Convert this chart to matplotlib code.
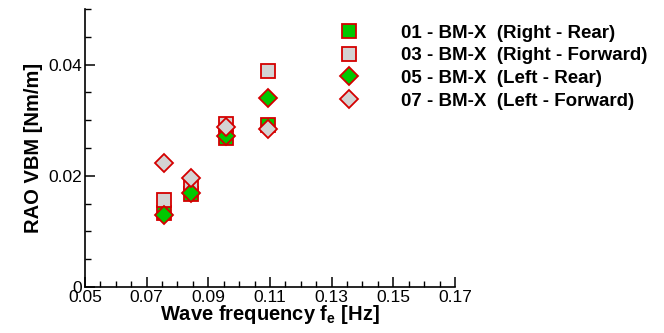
import numpy as np
import matplotlib
matplotlib.use("Agg")
import matplotlib.pyplot as plt

plt.rcParams['font.family'] = ['Liberation Sans', 'DejaVu Sans']

# wave encounter frequencies [Hz]
freq = [0.0757, 0.0843, 0.0957, 0.1094]

# RAO of vertical bending moment for each sensor
bm01 = [0.0133, 0.0168, 0.0268, 0.0292]   # Right - Rear
bm03 = [0.0156, 0.0183, 0.0293, 0.0388]   # Right - Forward
bm05 = [0.0130, 0.0169, 0.0271, 0.0340]   # Left - Rear
bm07 = [0.0223, 0.0196, 0.0287, 0.0285]   # Left - Forward

labels = ['01 - BM-X  (Right - Rear)',
          '03 - BM-X  (Right - Forward)',
          '05 - BM-X  (Left - Rear)',
          '07 - BM-X  (Left - Forward)']

red = '#d40000'
green = '#00c800'
grey = '#d3d3d3'

fig = plt.figure(figsize=(6.64, 3.33), dpi=100)
ax = fig.add_axes([85 / 664, 46 / 333, 370 / 664, 278 / 333])

ax.plot(freq, bm01, 's', ms=9.5, mfc=green, mec=red, mew=1.3, label=labels[0])
ax.plot(freq, bm03, 's', ms=9.5, mfc=grey, mec=red, mew=1.3, label=labels[1])
ax.plot(freq, bm05, 'D', ms=9, mfc=green, mec=red, mew=1.3, label=labels[2])
ax.plot(freq, bm07, 'D', ms=9, mfc=grey, mec=red, mew=1.3, label=labels[3])

ax.set_xlim(0.05, 0.17)
ax.set_ylim(0, 0.05)
ax.set_xticks(np.arange(0.05, 0.171, 0.02))
ax.set_xticklabels(['0.05', '0.07', '0.09', '0.11', '0.13', '0.15', '0.17'])
ax.set_xticks(np.arange(0.05, 0.171, 0.005), minor=True)
ax.set_yticks([0, 0.02, 0.04])
ax.set_yticklabels(['0', '0.02', '0.04'])
ax.set_yticks(np.arange(0, 0.0501, 0.005), minor=True)

ax.spines['top'].set_visible(False)
ax.spines['right'].set_visible(False)
ax.spines['left'].set_linewidth(1.2)
ax.spines['bottom'].set_linewidth(1.2)
ax.tick_params(which='major', direction='in', length=7, width=1.1, labelsize=12.5, pad=2)
ax.tick_params(which='minor', direction='in', length=4, width=1.0)

ax.set_xlabel('Wave frequency f$_\\mathregular{e}$ [Hz]', fontsize=14.5, fontweight='bold', labelpad=-1)
ax.set_ylabel('RAO VBM [Nm/m]', fontsize=14.5, fontweight='bold', labelpad=4)

ax.legend(loc='upper left', bbox_to_anchor=(328 / 664, 1 - 15 / 333),
          bbox_transform=fig.transFigure, frameon=False,
          prop={'size': 13.5, 'weight': 'bold'}, handlelength=1.2,
          handletextpad=2.2, labelspacing=0.3, borderpad=0)

fig.savefig('out.png', dpi=100)
